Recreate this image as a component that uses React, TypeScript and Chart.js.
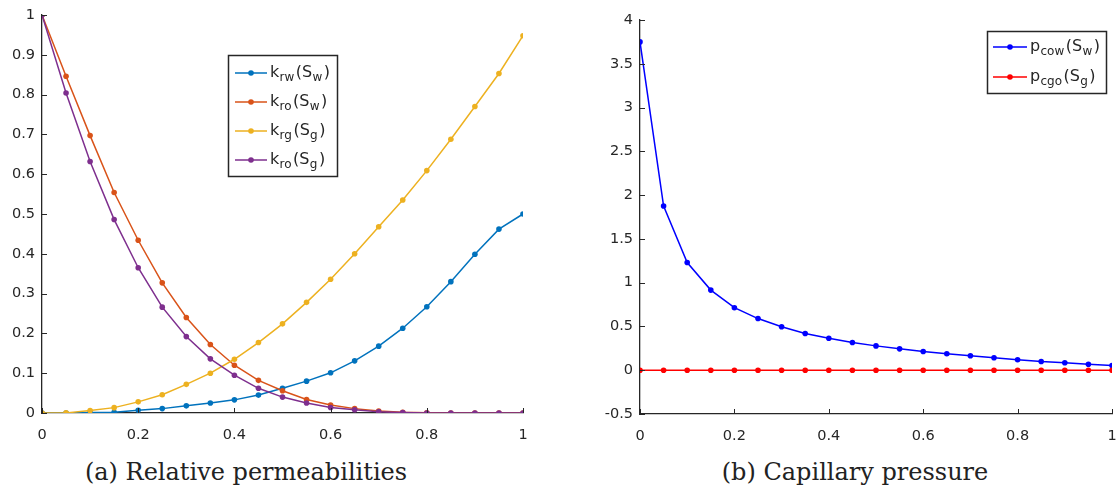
import React, { useEffect, useRef } from "react";
import { Chart, registerables } from "chart.js";

Chart.register(...registerables);

// ---------- data ----------
const saturation = [0, 0.05, 0.1, 0.15, 0.2, 0.25, 0.3, 0.35, 0.4, 0.45, 0.5, 0.55, 0.6, 0.65, 0.7, 0.75, 0.8, 0.85, 0.9, 0.95, 1];

const krwSw = [0, 0, 0.001, 0.002, 0.007, 0.011, 0.018, 0.025, 0.033, 0.045, 0.062, 0.08, 0.101, 0.131, 0.168, 0.213, 0.267, 0.33, 0.399, 0.462, 0.5];
const kroSw = [1, 0.846, 0.697, 0.554, 0.434, 0.327, 0.24, 0.172, 0.12, 0.082, 0.056, 0.034, 0.02, 0.011, 0.005, 0.002, 0.0005, 0, 0, 0, 0];
const krgSg = [0, 0.0003, 0.006, 0.0135, 0.028, 0.046, 0.072, 0.1, 0.135, 0.177, 0.224, 0.278, 0.336, 0.4, 0.468, 0.535, 0.609, 0.688, 0.77, 0.853, 0.948];
const kroSg = [1, 0.804, 0.632, 0.486, 0.365, 0.266, 0.192, 0.136, 0.095, 0.062, 0.04, 0.025, 0.014, 0.008, 0.003, 0.001, 0, 0, 0, 0, 0];

const pcowSw = [3.75, 1.875, 1.23, 0.915, 0.714, 0.59, 0.496, 0.42, 0.365, 0.316, 0.278, 0.244, 0.214, 0.188, 0.165, 0.143, 0.12, 0.1, 0.086, 0.068, 0.053];
const pcgoSg = [0, 0, 0, 0, 0, 0, 0, 0, 0, 0, 0, 0, 0, 0, 0, 0, 0, 0, 0, 0, 0];

const legendA = ["k_{rw}(S_{w})", "k_{ro}(S_{w})", "k_{rg}(S_{g})", "k_{ro}(S_{g})"];
const legendB = ["p_{cow}(S_{w})", "p_{cgo}(S_{g})"];

const captionA = "(a) Relative permeabilities";
const captionB = "(b) Capillary pressure";

const colorsA = ["#0072BD", "#D95319", "#EDB120", "#7E2F8E"];
const colorsB = ["#0000FF", "#FF0000"];

// ---------- helpers ----------
const INK = "#262626";
const SANS = "'DejaVu Sans', 'Liberation Sans', sans-serif";

const toPoints = (xs: number[], ys: number[]) => xs.map((x, i) => ({ x, y: ys[i] }));
const fmt = (v: any) => String(Math.round(Number(v) * 100) / 100);

function parseSegments(label: string) {
  const segs: { t: string; sub: boolean }[] = [];
  const re = /_\{([^}]*)\}/g;
  let last = 0;
  let m: RegExpExecArray | null;
  while ((m = re.exec(label))) {
    if (m.index > last) segs.push({ t: label.slice(last, m.index), sub: false });
    segs.push({ t: m[1], sub: true });
    last = m.index + m[0].length;
  }
  if (last < label.length) segs.push({ t: label.slice(last), sub: false });
  return segs;
}

const inwardTicks = {
  id: "inwardTicks",
  afterDraw(chart: any) {
    const { ctx, chartArea } = chart;
    const xs = chart.scales.x;
    const ys = chart.scales.y;
    ctx.save();
    ctx.strokeStyle = INK;
    ctx.lineWidth = 1;
    const len = 5;
    xs.ticks.forEach((t: any) => {
      const px = Math.round(xs.getPixelForValue(t.value)) + 0.5;
      ctx.beginPath();
      ctx.moveTo(px, chartArea.bottom);
      ctx.lineTo(px, chartArea.bottom - len);
      ctx.stroke();
    });
    ys.ticks.forEach((t: any) => {
      const py = Math.round(ys.getPixelForValue(t.value)) + 0.5;
      ctx.beginPath();
      ctx.moveTo(chartArea.left, py);
      ctx.lineTo(chartArea.left + len, py);
      ctx.stroke();
    });
    ctx.restore();
  },
};

const subLegend = {
  id: "subLegend",
  afterDraw(chart: any, _args: any, opts: any) {
    if (!opts || !opts.box) return;
    const { ctx } = chart;
    const { box, rowStart, rowGap, lineX0, lineX1, textX } = opts;
    ctx.save();
    ctx.fillStyle = "#ffffff";
    ctx.fillRect(box.x, box.y, box.w, box.h);
    ctx.strokeStyle = INK;
    ctx.lineWidth = 1.5;
    ctx.strokeRect(box.x + 0.5, box.y + 0.5, box.w, box.h);
    chart.data.datasets.forEach((ds: any, i: number) => {
      const cy = rowStart + i * rowGap;
      ctx.strokeStyle = ds.borderColor;
      ctx.lineWidth = 1.5;
      ctx.beginPath();
      ctx.moveTo(lineX0, cy);
      ctx.lineTo(lineX1, cy);
      ctx.stroke();
      ctx.fillStyle = ds.borderColor;
      ctx.beginPath();
      ctx.arc((lineX0 + lineX1) / 2, cy, 2.8, 0, Math.PI * 2);
      ctx.fill();
      let x = textX;
      ctx.fillStyle = INK;
      ctx.textBaseline = "alphabetic";
      ctx.textAlign = "left";
      parseSegments(ds.label).forEach((s) => {
        ctx.font = s.sub ? `12px ${SANS}` : `16px ${SANS}`;
        ctx.fillText(s.t, x, s.sub ? cy + 8 : cy + 4);
        x += ctx.measureText(s.t).width + (s.sub ? 1.5 : 0.3);
      });
    });
    ctx.restore();
  },
};

function makeScale(min: number, max: number, step: number, isX: boolean, size: number) {
  return {
    type: "linear",
    min,
    max,
    ticks: {
      stepSize: step,
      callback: fmt,
      color: INK,
      font: { family: SANS, size: 14.5 },
      padding: isX ? 14 : 7,
      maxRotation: 0,
      autoSkip: false,
      includeBounds: true,
    },
    grid: { display: true, drawOnChartArea: false, drawTicks: false, color: "rgba(0,0,0,0)" },
    border: { display: true, color: INK, width: 1.3 },
    afterFit: (s: any) => {
      if (isX) s.height = size;
      else s.width = size;
      s.paddingLeft = 0;
      s.paddingRight = 0;
      s.paddingTop = 0;
      s.paddingBottom = 0;
    },
  };
}

function lineDataset(label: string, ys: number[], color: string, order: number) {
  return {
    label,
    data: toPoints(saturation, ys),
    borderColor: color,
    backgroundColor: color,
    borderWidth: 1.5,
    pointRadius: 2.8,
    pointHoverRadius: 2.8,
    pointBorderWidth: 0,
    pointBackgroundColor: color,
    tension: 0,
    fill: false,
    order,
  };
}

export default function App() {
  const refA = useRef<HTMLCanvasElement | null>(null);
  const refB = useRef<HTMLCanvasElement | null>(null);

  useEffect(() => {
    const common = {
      responsive: false,
      animation: false as const,
      devicePixelRatio: 1,
      events: [],
    };

    const chartA = new Chart(refA.current as HTMLCanvasElement, {
      type: "line",
      data: {
        datasets: [
          lineDataset(legendA[0], krwSw, colorsA[0], 4),
          lineDataset(legendA[1], kroSw, colorsA[1], 3),
          lineDataset(legendA[2], krgSg, colorsA[2], 2),
          lineDataset(legendA[3], kroSg, colorsA[3], 1),
        ],
      },
      options: {
        ...common,
        layout: { padding: { left: 0, top: 15, right: 37, bottom: 0 } },
        scales: {
          x: makeScale(0, 1, 0.2, true, 30) as any,
          y: makeScale(0, 1, 0.1, false, 42) as any,
        },
        plugins: {
          legend: { display: false },
          tooltip: { enabled: false },
          subLegend: {
            box: { x: 228, y: 55, w: 109, h: 121 },
            rowStart: 73,
            rowGap: 29,
            lineX0: 235,
            lineX1: 267,
            textX: 270,
          },
        } as any,
      },
      plugins: [inwardTicks, subLegend],
    } as any);

    const chartB = new Chart(refB.current as HTMLCanvasElement, {
      type: "line",
      data: {
        datasets: [
          lineDataset(legendB[0], pcowSw, colorsB[0], 2),
          lineDataset(legendB[1], pcgoSg, colorsB[1], 1),
        ],
      },
      options: {
        ...common,
        layout: { padding: { left: 0, top: 20, right: 14, bottom: 0 } },
        scales: {
          x: makeScale(0, 1, 0.2, true, 30) as any,
          y: makeScale(-0.5, 4, 0.5, false, 80) as any,
        },
        plugins: {
          legend: { display: false },
          tooltip: { enabled: false },
          subLegend: {
            box: { x: 427, y: 31, w: 119, h: 62 },
            rowStart: 47,
            rowGap: 30,
            lineX0: 433,
            lineX1: 467,
            textX: 470,
          },
        } as any,
      },
      plugins: [inwardTicks, subLegend],
    } as any);

    return () => {
      chartA.destroy();
      chartB.destroy();
    };
  }, []);

  const captionStyle: React.CSSProperties = {
    position: "absolute",
    top: 457,
    fontFamily: "'DejaVu Serif', serif",
    fontSize: 24,
    color: "#222",
    whiteSpace: "nowrap",
    transform: "translateX(-50%)",
    lineHeight: "30px",
  };

  return (
    <div
      style={{
        position: "fixed",
        left: 0,
        top: 0,
        width: 1116,
        height: 488,
        overflow: "hidden",
        background: "#ffffff",
      }}
    >
      <canvas ref={refA} width={560} height={443} style={{ position: "absolute", left: 0, top: 0 }} />
      <canvas ref={refB} width={566} height={444} style={{ position: "absolute", left: 560, top: 0 }} />
      <div style={{ ...captionStyle, left: 246 }}>{captionA}</div>
      <div style={{ ...captionStyle, left: 855 }}>{captionB}</div>
    </div>
  );
}
